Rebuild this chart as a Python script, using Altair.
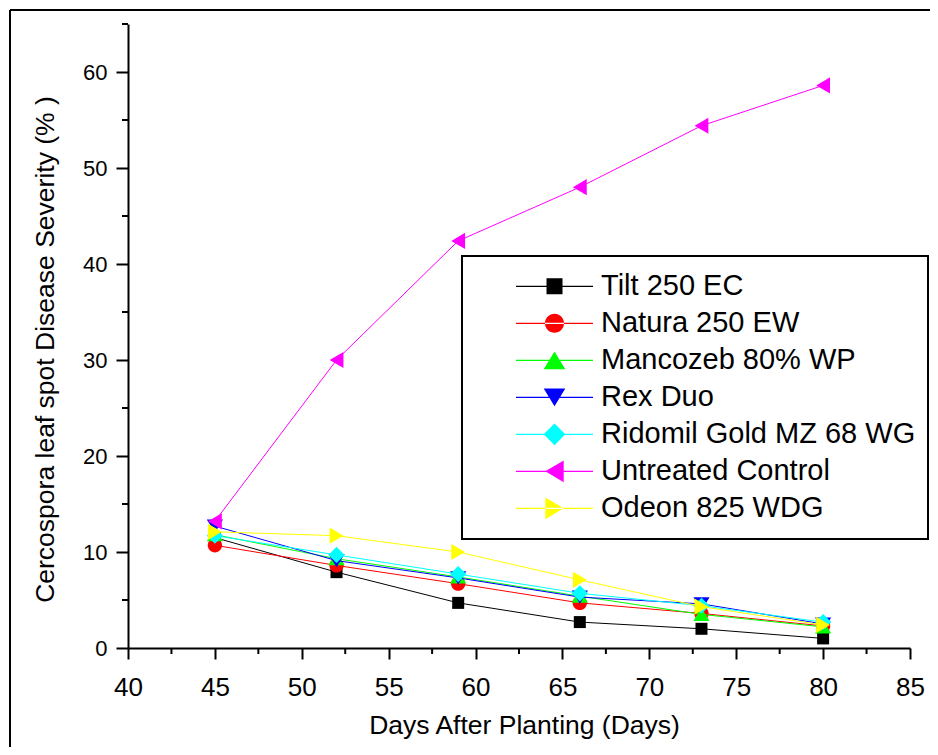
import altair as alt
import pandas as pd

# ---------------- data ----------------
days = [45, 52, 59, 66, 73, 80]
series_names = [
    "Tilt 250 EC",
    "Natura 250 EW",
    "Mancozeb 80% WP",
    "Rex Duo",
    "Ridomil Gold MZ 68 WG",
    "Untreated Control",
    "Odeon 825 WDG",
]
tilt = [11.5, 7.9, 4.7, 2.7, 2.0, 1.0]
natura = [10.7, 8.6, 6.7, 4.7, 3.6, 2.3]
mancozeb = [11.8, 9.3, 7.4, 5.4, 3.5, 2.2]
rex_duo = [12.7, 9.1, 7.3, 5.3, 4.6, 2.5]
ridomil = [11.7, 9.7, 7.7, 5.7, 4.4, 2.7]
untreated = [13.2, 30.0, 42.4, 48.0, 54.4, 58.6]
odeon = [12.1, 11.7, 10.0, 7.1, 4.3, 2.4]
series_values = [tilt, natura, mancozeb, rex_duo, ridomil, untreated, odeon]

x_ticks = [40, 45, 50, 55, 60, 65, 70, 75, 80, 85]
x_minor = [42.5, 47.5, 52.5, 57.5, 62.5, 67.5, 72.5, 77.5, 82.5]
y_ticks = [0, 10, 20, 30, 40, 50, 60]
y_minor = [5, 15, 25, 35, 45, 55, 65]

# ---------------- styles ----------------
colors = ["#000000", "#FF0000", "#00FF00", "#0000FF", "#00FFFF", "#FF00FF", "#FFFF00"]
markers = [
    "M-1,-1H1V1H-1Z",
    "M-1.19,0A1.19,1.19,0,1,0,1.19,0A1.19,1.19,0,1,0,-1.19,0Z",
    "M0,-1.1L1.35,1.1L-1.35,1.1Z",
    "M-1.35,-1.1L1.35,-1.1L0,1.1Z",
    "M0,-1.35L1.35,0L0,1.35L-1.35,0Z",
    "M-1.15,0L1.15,-1.35L1.15,1.35Z",
    "M1.15,0L-1.15,-1.35L-1.15,1.35Z",
]
legend_line = " M-4.81,-0.07H4.81V0.07H-4.81Z"
legend_shapes = [m + legend_line for m in markers]

rows = []
for name, vals in zip(series_names, series_values):
    for d, v in zip(days, vals):
        rows.append({"Day": d, "Severity": v, "Series": name})
df = pd.DataFrame(rows)

W, H = 782, 624
x_scale = alt.Scale(domain=[40, 85], nice=False, zero=False)
y_scale = alt.Scale(domain=[0, 65], nice=False, zero=False)
color_scale = alt.Scale(domain=series_names, range=colors)

x_axis = alt.Axis(
    values=x_ticks, tickSize=11,
    labelFont="Liberation Sans", labelFontSize=26,
    labelBaseline="alphabetic", labelPadding=36, labelFlush=False,
    labelOverlap=False, title="Days After Planting (Days)", titleFont="Liberation Sans",
    titleFontSize=26.5, titleFontWeight="normal", titleX=396, titleY=85,
    titleBaseline="alphabetic", titleAlign="center",
)
y_axis = alt.Axis(
    values=y_ticks, tickSize=12, labelFont="Liberation Sans", labelFontSize=22,
    labelPadding=9, labelOverlap=False, labelFlush=False,
    title="Cercospora leaf spot Disease Severity (% )", titleFont="Liberation Sans",
    titleFontSize=26.5, titleFontWeight="normal", titleX=-75, titleY=325,
    titleBaseline="alphabetic", titleAlign="center", titleAngle=270,
)

X = alt.X("Day:Q", scale=x_scale, axis=x_axis, title="Days After Planting (Days)")
Y = alt.Y("Severity:Q", scale=y_scale, axis=y_axis, title="Cercospora leaf spot Disease Severity (% )")

series_layers = []
for name, mk, col in zip(series_names, markers, colors):
    base = alt.Chart(df).transform_filter(alt.datum.Series == name)
    series_layers.append(base.mark_line(strokeWidth=1, color=col).encode(x=X, y=Y))
    series_layers.append(
        base.mark_point(filled=True, opacity=1, size=144, strokeWidth=0, shape=mk, color=col)
        .encode(x=X, y=Y)
    )

legend = alt.Legend(
    orient="none", legendX=334, legendY=232, padding=12,
    labelFont="Liberation Sans", labelFontSize=29, labelColor="black", labelLimit=600,
    symbolSize=256, symbolOffset=66, labelOffset=32, clipHeight=36.67, rowPadding=0,
    strokeColor="black", fillColor="white", symbolStrokeWidth=0, symbolOpacity=1,
)
legend_layer = alt.Chart(df).mark_point(filled=True, opacity=0, size=256).encode(
    x=X, y=Y,
    color=alt.Color("Series:N", scale=color_scale, legend=legend, title=None),
    shape=alt.Shape("Series:N", scale=alt.Scale(domain=series_names, range=legend_shapes),
                    legend=legend, title=None),
)

xminor = alt.Chart(pd.DataFrame({"Day": x_minor})).mark_rule(color="black", strokeWidth=2).encode(
    x=X, y=alt.value(H), y2=alt.value(H + 6)
)
yminor = alt.Chart(pd.DataFrame({"Severity": y_minor})).mark_rule(color="black", strokeWidth=2).encode(
    y=Y, x=alt.value(-6), x2=alt.value(0)
)

one = pd.DataFrame({"k": [0]})
frame_top = alt.Chart(one).mark_rule(color="black", strokeWidth=2).encode(
    x=alt.value(-118), x2=alt.value(802), y=alt.value(-14)
)
frame_left = alt.Chart(one).mark_rule(color="black", strokeWidth=2).encode(
    x=alt.value(-118), y=alt.value(-14), y2=alt.value(723)
)

chart = alt.layer(
    *series_layers, legend_layer, xminor, yminor, frame_top, frame_left
).properties(
    width=W, height=H,
    autosize=alt.AutoSizeParams(type="none"),
    padding={"left": 120, "top": 16, "right": 20, "bottom": 99},
).configure_view(stroke=None).configure_axis(
    domainColor="black", tickColor="black", labelColor="black", titleColor="black",
    domainWidth=2, tickWidth=2, grid=False,
).configure_legend(strokeWidth=2)

chart.save("out.html", embed_options={"renderer": "svg", "actions": False})
